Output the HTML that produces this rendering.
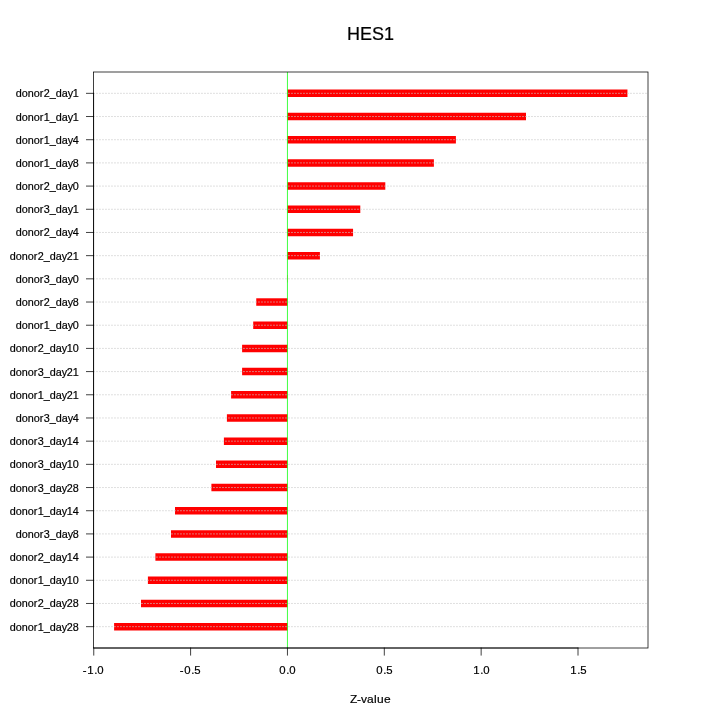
<!DOCTYPE html>
<html lang="en"><head><meta charset="utf-8"><title>HES1</title>
<style>
html,body{margin:0;padding:0;background:#fff;}
body{width:720px;height:720px;overflow:hidden;}
svg{display:block;}
text{font-family:"Liberation Sans",sans-serif;fill:#000;stroke:#000;stroke-width:0.2px;}
.yl{font-size:10.8px;}
.xl{font-size:12px;stroke-width:0.1px;}
.tk{font-size:11.4px;stroke-width:0.1px;}
.ti{font-size:18px;stroke-width:0.35px;}
.ax{stroke:#000;stroke-width:0.75;fill:none;stroke-linecap:round;}
.gr{stroke:#c8c8c8;stroke-width:0.75;fill:none;stroke-dasharray:0.75 2.25;stroke-linecap:round;}
.bar{stroke:#f00;stroke-width:7.5;fill:none;stroke-linecap:butt;}
.zero{stroke:#0f0;stroke-width:0.75;fill:none;}
</style></head><body>
<svg width="720" height="720" viewBox="0 0 720 720">
<rect x="0" y="0" width="720" height="720" fill="#fff"/>
<g class="ti"><text x="347 360 372 384" y="40">HES1</text></g>
<g class="xl"><text transform="matrix(1 0 0 0.93 0 703.000)" x="350 357 361 367 374 377 384" y="0">Z-value</text></g>
<g class="bar">
<line x1="287.45" y1="93.33" x2="627.45" y2="93.33"/>
<line x1="287.45" y1="116.52" x2="526.00" y2="116.52"/>
<line x1="287.45" y1="139.71" x2="455.90" y2="139.71"/>
<line x1="287.45" y1="162.90" x2="433.90" y2="162.90"/>
<line x1="287.45" y1="186.09" x2="385.30" y2="186.09"/>
<line x1="287.45" y1="209.28" x2="360.30" y2="209.28"/>
<line x1="287.45" y1="232.46" x2="353.06" y2="232.46"/>
<line x1="287.45" y1="255.65" x2="319.90" y2="255.65"/>
<line x1="287.45" y1="278.84" x2="287.75" y2="278.84"/>
<line x1="256.25" y1="302.03" x2="287.45" y2="302.03"/>
<line x1="253.20" y1="325.22" x2="287.45" y2="325.22"/>
<line x1="242.10" y1="348.41" x2="287.45" y2="348.41"/>
<line x1="242.10" y1="371.59" x2="287.45" y2="371.59"/>
<line x1="231.10" y1="394.78" x2="287.45" y2="394.78"/>
<line x1="226.90" y1="417.97" x2="287.45" y2="417.97"/>
<line x1="223.90" y1="441.16" x2="287.45" y2="441.16"/>
<line x1="216.00" y1="464.35" x2="287.45" y2="464.35"/>
<line x1="211.40" y1="487.54" x2="287.45" y2="487.54"/>
<line x1="175.00" y1="510.72" x2="287.45" y2="510.72"/>
<line x1="171.00" y1="533.91" x2="287.45" y2="533.91"/>
<line x1="155.40" y1="557.10" x2="287.45" y2="557.10"/>
<line x1="147.90" y1="580.29" x2="287.45" y2="580.29"/>
<line x1="141.00" y1="603.48" x2="287.45" y2="603.48"/>
<line x1="114.10" y1="626.67" x2="287.45" y2="626.67"/>
</g>
<g class="gr">
<line x1="93.60" y1="93.33" x2="648.00" y2="93.33"/>
<line x1="93.60" y1="116.52" x2="648.00" y2="116.52"/>
<line x1="93.60" y1="139.71" x2="648.00" y2="139.71"/>
<line x1="93.60" y1="162.90" x2="648.00" y2="162.90"/>
<line x1="93.60" y1="186.09" x2="648.00" y2="186.09"/>
<line x1="93.60" y1="209.28" x2="648.00" y2="209.28"/>
<line x1="93.60" y1="232.46" x2="648.00" y2="232.46"/>
<line x1="93.60" y1="255.65" x2="648.00" y2="255.65"/>
<line x1="93.60" y1="278.84" x2="648.00" y2="278.84"/>
<line x1="93.60" y1="302.03" x2="648.00" y2="302.03"/>
<line x1="93.60" y1="325.22" x2="648.00" y2="325.22"/>
<line x1="93.60" y1="348.41" x2="648.00" y2="348.41"/>
<line x1="93.60" y1="371.59" x2="648.00" y2="371.59"/>
<line x1="93.60" y1="394.78" x2="648.00" y2="394.78"/>
<line x1="93.60" y1="417.97" x2="648.00" y2="417.97"/>
<line x1="93.60" y1="441.16" x2="648.00" y2="441.16"/>
<line x1="93.60" y1="464.35" x2="648.00" y2="464.35"/>
<line x1="93.60" y1="487.54" x2="648.00" y2="487.54"/>
<line x1="93.60" y1="510.72" x2="648.00" y2="510.72"/>
<line x1="93.60" y1="533.91" x2="648.00" y2="533.91"/>
<line x1="93.60" y1="557.10" x2="648.00" y2="557.10"/>
<line x1="93.60" y1="580.29" x2="648.00" y2="580.29"/>
<line x1="93.60" y1="603.48" x2="648.00" y2="603.48"/>
<line x1="93.60" y1="626.67" x2="648.00" y2="626.67"/>
</g>
<line class="zero" x1="287.45" y1="72.00" x2="287.45" y2="648.00"/>
<rect class="ax" x="93.60" y="72.00" width="554.40" height="576.00"/>
<g class="ax">
<line x1="93.75" y1="648.00" x2="578.00" y2="648.00"/>
<line x1="93.75" y1="648.00" x2="93.75" y2="655.20"/>
<line x1="190.60" y1="648.00" x2="190.60" y2="655.20"/>
<line x1="287.45" y1="648.00" x2="287.45" y2="655.20"/>
<line x1="384.30" y1="648.00" x2="384.30" y2="655.20"/>
<line x1="481.15" y1="648.00" x2="481.15" y2="655.20"/>
<line x1="578.00" y1="648.00" x2="578.00" y2="655.20"/>
<line x1="93.60" y1="93.33" x2="93.60" y2="626.67"/>
<line x1="86.40" y1="93.33" x2="93.60" y2="93.33"/>
<line x1="86.40" y1="116.52" x2="93.60" y2="116.52"/>
<line x1="86.40" y1="139.71" x2="93.60" y2="139.71"/>
<line x1="86.40" y1="162.90" x2="93.60" y2="162.90"/>
<line x1="86.40" y1="186.09" x2="93.60" y2="186.09"/>
<line x1="86.40" y1="209.28" x2="93.60" y2="209.28"/>
<line x1="86.40" y1="232.46" x2="93.60" y2="232.46"/>
<line x1="86.40" y1="255.65" x2="93.60" y2="255.65"/>
<line x1="86.40" y1="278.84" x2="93.60" y2="278.84"/>
<line x1="86.40" y1="302.03" x2="93.60" y2="302.03"/>
<line x1="86.40" y1="325.22" x2="93.60" y2="325.22"/>
<line x1="86.40" y1="348.41" x2="93.60" y2="348.41"/>
<line x1="86.40" y1="371.59" x2="93.60" y2="371.59"/>
<line x1="86.40" y1="394.78" x2="93.60" y2="394.78"/>
<line x1="86.40" y1="417.97" x2="93.60" y2="417.97"/>
<line x1="86.40" y1="441.16" x2="93.60" y2="441.16"/>
<line x1="86.40" y1="464.35" x2="93.60" y2="464.35"/>
<line x1="86.40" y1="487.54" x2="93.60" y2="487.54"/>
<line x1="86.40" y1="510.72" x2="93.60" y2="510.72"/>
<line x1="86.40" y1="533.91" x2="93.60" y2="533.91"/>
<line x1="86.40" y1="557.10" x2="93.60" y2="557.10"/>
<line x1="86.40" y1="580.29" x2="93.60" y2="580.29"/>
<line x1="86.40" y1="603.48" x2="93.60" y2="603.48"/>
<line x1="86.40" y1="626.67" x2="93.60" y2="626.67"/>
</g>
<g class="tk">
<text transform="matrix(1 0 0 0.98 0 674.000)" x="82.8 87.3 94.3 97.3" y="0">-1.0</text>
<text transform="matrix(1 0 0 0.98 0 674.000)" x="179.8 184.3 191.3 194.3" y="0">-0.5</text>
<text transform="matrix(1 0 0 0.98 0 674.000)" x="279.3 286.3 289.3" y="0">0.0</text>
<text transform="matrix(1 0 0 0.98 0 674.000)" x="376.3 383.3 386.3" y="0">0.5</text>
<text transform="matrix(1 0 0 0.98 0 674.000)" x="473.3 480.3 483.3" y="0">1.0</text>
<text transform="matrix(1 0 0 0.98 0 674.000)" x="570.3 577.3 580.3" y="0">1.5</text>
</g>
<g class="yl">
<text x="15.85 21.85 27.85 33.85 39.85 43.85 49.85 55.85 61.85 67.85 72.85" y="97">donor2_day1</text>
<text x="15.85 21.85 27.85 33.85 39.85 43.85 49.85 55.85 61.85 67.85 72.85" y="121">donor1_day1</text>
<text x="15.85 21.85 27.85 33.85 39.85 43.85 49.85 55.85 61.85 67.85 72.85" y="144">donor1_day4</text>
<text x="15.85 21.85 27.85 33.85 39.85 43.85 49.85 55.85 61.85 67.85 72.85" y="167">donor1_day8</text>
<text x="15.85 21.85 27.85 33.85 39.85 43.85 49.85 55.85 61.85 67.85 72.85" y="190">donor2_day0</text>
<text x="15.85 21.85 27.85 33.85 39.85 43.85 49.85 55.85 61.85 67.85 72.85" y="213">donor3_day1</text>
<text x="15.85 21.85 27.85 33.85 39.85 43.85 49.85 55.85 61.85 67.85 72.85" y="236">donor2_day4</text>
<text x="9.85 15.85 21.85 27.85 33.85 37.85 43.85 49.85 55.85 61.85 66.85 72.85" y="260">donor2_day21</text>
<text x="15.85 21.85 27.85 33.85 39.85 43.85 49.85 55.85 61.85 67.85 72.85" y="283">donor3_day0</text>
<text x="15.85 21.85 27.85 33.85 39.85 43.85 49.85 55.85 61.85 67.85 72.85" y="306">donor2_day8</text>
<text x="15.85 21.85 27.85 33.85 39.85 43.85 49.85 55.85 61.85 67.85 72.85" y="329">donor1_day0</text>
<text x="9.85 15.85 21.85 27.85 33.85 37.85 43.85 49.85 55.85 61.85 66.85 72.85" y="352">donor2_day10</text>
<text x="9.85 15.85 21.85 27.85 33.85 37.85 43.85 49.85 55.85 61.85 66.85 72.85" y="376">donor3_day21</text>
<text x="9.85 15.85 21.85 27.85 33.85 37.85 43.85 49.85 55.85 61.85 66.85 72.85" y="399">donor1_day21</text>
<text x="15.85 21.85 27.85 33.85 39.85 43.85 49.85 55.85 61.85 67.85 72.85" y="422">donor3_day4</text>
<text x="9.85 15.85 21.85 27.85 33.85 37.85 43.85 49.85 55.85 61.85 66.85 72.85" y="445">donor3_day14</text>
<text x="9.85 15.85 21.85 27.85 33.85 37.85 43.85 49.85 55.85 61.85 66.85 72.85" y="468">donor3_day10</text>
<text x="9.85 15.85 21.85 27.85 33.85 37.85 43.85 49.85 55.85 61.85 66.85 72.85" y="492">donor3_day28</text>
<text x="9.85 15.85 21.85 27.85 33.85 37.85 43.85 49.85 55.85 61.85 66.85 72.85" y="515">donor1_day14</text>
<text x="15.85 21.85 27.85 33.85 39.85 43.85 49.85 55.85 61.85 67.85 72.85" y="538">donor3_day8</text>
<text x="9.85 15.85 21.85 27.85 33.85 37.85 43.85 49.85 55.85 61.85 66.85 72.85" y="561">donor2_day14</text>
<text x="9.85 15.85 21.85 27.85 33.85 37.85 43.85 49.85 55.85 61.85 66.85 72.85" y="584">donor1_day10</text>
<text x="9.85 15.85 21.85 27.85 33.85 37.85 43.85 49.85 55.85 61.85 66.85 72.85" y="607">donor2_day28</text>
<text x="9.85 15.85 21.85 27.85 33.85 37.85 43.85 49.85 55.85 61.85 66.85 72.85" y="631">donor1_day28</text>
</g>
</svg>
</body></html>
